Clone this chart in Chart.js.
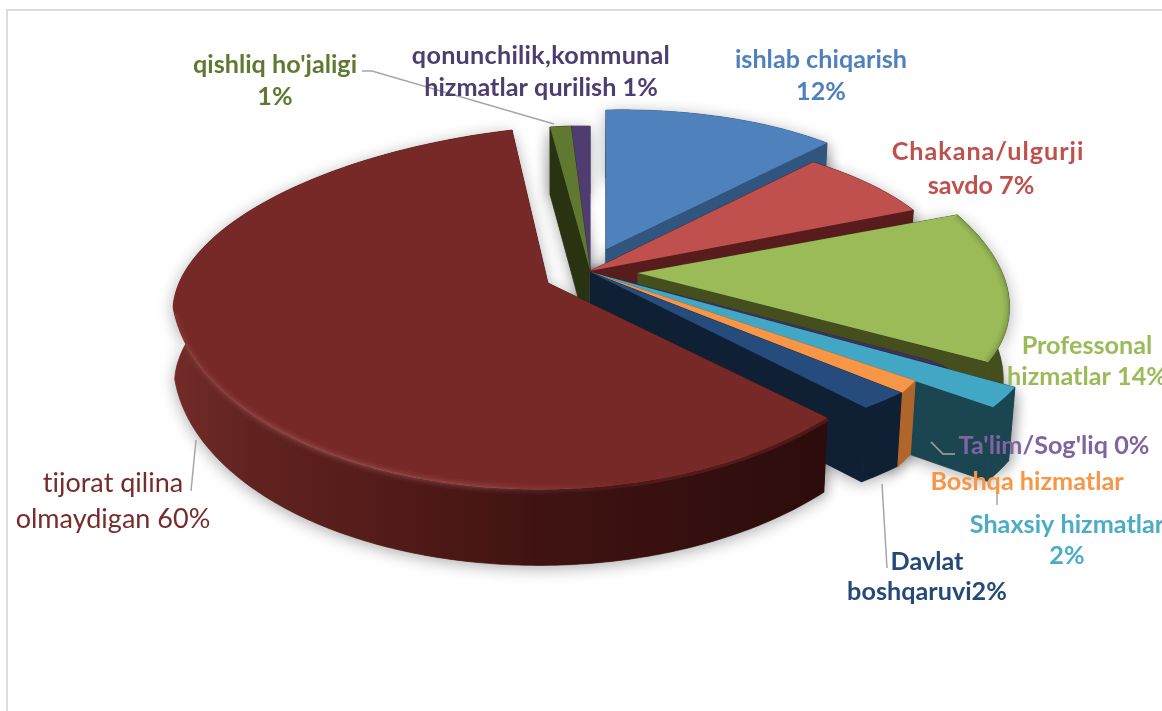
<!DOCTYPE html>
<html><head><meta charset="utf-8">
<style>html,body{margin:0;padding:0;background:#fff;overflow:hidden}canvas{display:block}</style>
<script src="https://cdn.jsdelivr.net/npm/chart.js@4"></script>
</head><body><canvas id="c" width="1162" height="711"></canvas>
<script>
const categories=["ishlab chiqarish","Chakana/ulgurji savdo","Professonal hizmatlar","Ta'lim/Sog'liq","Shaxsiy hizmatlar","Boshqa hizmatlar","Davlat boshqaruvi","tijorat qilina olmaydigan","qishliq ho'jaligi","qonunchilik,kommunal hizmatlar qurilish"];
const values=[12,7,14,0.3,2,1,2,60,1,1];
const topColors=["#4f81bd","#c0504d","#9bbb59","#43305f","#41a7c4","#f79646","#264b7d","#772928","#5f7a30","#4f3c70"];
const wallColors=["#30557f","#581c1d","#454f1e","#2f2445","#1c4552","#b0662a","#0f2034","#561c1a","#2a3311","#33264a"];

// Tilted-camera view of every wedge: origin, then the 2x2 map of the unit circle onto the page.
const views=[
 {o:[606,249],p:[[323.6,0,-6.5,139]]},
 {o:[590,271],p:[[361,32,-9.6,140]]},
 {o:[638,273],p:[[367,58,7,174]]},
 {o:[590,272],p:[[-79,865,-98.5,369]]},
 {o:[590,272],p:[[443,80,18,202]]},
 {o:[590,272],p:[[381,33,-32,225]]},
 {o:[590,272],p:[[410,-2,10,175]]},
 {o:[548,283],p:[[375,-11,-24,157.2],[375,35,-24,205]]},
 {o:[590,270],p:[[336,-2,-3,144.5]]},
 {o:[590,270],p:[[304,0,5,144]]}
];
const paintOrder=[9,8,0,1,2,3,4,5,6,7];
const LEAD="#a6a6a6";
const textLabels=[
 {c:"#4f81bd",x:821,l:[["ishlab chiqarish",60],["12%",92]]},
 {c:"#c0504d",x:988,s:[0.95,0],l:[["Chakana/ulgurji",152],["savdo 7%",186]],dx:[0,-7]},
 {c:"#9bbb59",x:1087,l:[["Professonal",346],["hizmatlar 14%",377]]},
 {c:"#8064a2",x:1054,l:[["Ta'lim/Sog'liq 0%",446]]},
 {c:"#f79646",x:1027,l:[["Boshqa hizmatlar",482]]},
 {c:"#4bacc6",x:1067,l:[["Shaxsiy hizmatlar",525],["2%",556]]},
 {c:"#254a7a",x:927,l:[["Davlat",562],["boshqaruvi2%",592]]},
 {c:"#772c2a",x:113,w:400,z:27,l:[["tijorat qilina",483],["olmaydigan 60%",519]]},
 {c:"#5f7a30",x:275,l:[["qishliq ho'jaligi",65],["1%",97]]},
 {c:"#4f3c70",x:541,s:[0.25,0],l:[["qonunchilik,kommunal",56],["hizmatlar qurilish 1%",88]]}
];
const leaders=[
 [[362,71],[372,71],[554,124]],
 [[191,491],[196,440]],
 [[887,568],[882,484]],
 [[997,505],[997,490]],
 [[931,442],[943,454],[955,454]]
];

function project(v,u0,v0){
 const m=v.p.length>1&&v0>0?v.p[1]:v.p[0];
 return [v.o[0]+m[0]*u0+m[1]*v0, v.o[1]+m[2]*u0+m[3]*v0];
}
function drop(p){
 const k=p[0]>590?0.015:0.004;
 return [p[0]-(p[0]-590)*k, p[1]+68+Math.max(0,p[1]-126)*0.022];
}
function rimPoints(arc,v,minV){
 const pts=[],n=Math.max(8,Math.ceil((arc.endAngle-arc.startAngle)*60));
 for(let i=0;i<=n;i++){
  const t=arc.startAngle+(arc.endAngle-arc.startAngle)*i/n;
  if(minV!==undefined&&Math.sin(t)<minV)continue;
  pts.push(project(v,Math.cos(t),Math.sin(t)));
 }
 return pts;
}
function tracePoly(ctx,pts){ctx.beginPath();pts.forEach((p,i)=>i?ctx.lineTo(p[0],p[1]):ctx.moveTo(p[0],p[1]));ctx.closePath();}
function wallPolys(arc,v){
 const rim=rimPoints(arc,v),o=v.o,bo=drop(o),a=rim[0],b=rim[rim.length-1];
 return [
  [o,a,drop(a),bo],
  [o,b,drop(b),bo],
  rim.concat(rim.slice().reverse().map(drop))
 ];
}
function drawTop(ctx,arc,v){
 const R=arc.outerRadius,x=arc.x,y=arc.y;
 v.p.forEach((m,k)=>{
  ctx.save();
  const a=m[0]/R,b=m[1]/R,c=m[2]/R,d=m[3]/R;
  ctx.transform(a,c,b,d,v.o[0]-(a*x+b*y),v.o[1]-(c*x+d*y));
  if(v.p.length>1){
   ctx.beginPath();
   if(k===0)ctx.rect(x-2*R,y-2*R,4*R,2*R+1.5);else ctx.rect(x-2*R,y-1,4*R,2*R+1);
   ctx.clip();
  }
  arc.draw(ctx);
  ctx.restore();
 });
}
const pie3d={
 id:'pie3d',
 beforeDatasetsDraw(chart){
  const ctx=chart.ctx,arcs=chart.getDatasetMeta(0).data;
  ctx.save();ctx.strokeStyle="#dcdcdc";ctx.lineWidth=2;
  ctx.beginPath();ctx.moveTo(7,711);ctx.lineTo(7,10);ctx.lineTo(1162,10);ctx.stroke();ctx.restore();
  ctx.save();
  ctx.shadowColor="rgba(0,0,0,0.33)";ctx.shadowBlur=16;ctx.shadowOffsetY=3;ctx.fillStyle="#777";
  paintOrder.forEach(i=>{
   wallPolys(arcs[i],views[i]).forEach(p=>{tracePoly(ctx,p);ctx.fill();});
  });
  ctx.restore();
  paintOrder.forEach(i=>{
   const arc=arcs[i],v=views[i];
   ctx.save();
   let fill=wallColors[i];
   if(i===7){
    const g=ctx.createLinearGradient(173,0,830,0);
    g.addColorStop(0,"#742b28");g.addColorStop(.04,"#6c2825");g.addColorStop(.14,"#5f221f");g.addColorStop(.35,"#511a18");g.addColorStop(.55,"#401312");g.addColorStop(1,"#2c0c0c");
    fill=g;
   }
   ctx.fillStyle=fill;ctx.strokeStyle=fill;ctx.lineWidth=.6;
   wallPolys(arc,v).forEach(p=>{tracePoly(ctx,p);ctx.fill();ctx.stroke();});
   ctx.restore();
   drawTop(ctx,arc,v);
   ctx.save();
   ctx.lineJoin="round";
   if(i===7){
    const front=rimPoints(arc,v,0.02);
    const hi=(al)=>{const g=ctx.createLinearGradient(173,0,830,0);
     g.addColorStop(0,"rgba(255,175,165,"+al*.5+")");g.addColorStop(.15,"rgba(255,175,165,"+al+")");g.addColorStop(.45,"rgba(255,175,165,"+al+")");g.addColorStop(.68,"rgba(255,175,165,0)");g.addColorStop(1,"rgba(255,175,165,0)");return g;};
    [[11,.035],[7,.05],[3.5,.08]].forEach(s=>{
     ctx.lineWidth=s[0];ctx.strokeStyle=hi(s[1]);
     ctx.beginPath();front.forEach((p,j)=>j?ctx.lineTo(p[0],p[1]):ctx.moveTo(p[0],p[1]));ctx.stroke();
    });
    const g2=ctx.createLinearGradient(173,0,830,0);
    g2.addColorStop(.55,"rgba(120,40,38,0)");g2.addColorStop(.75,"rgba(120,40,38,.45)");g2.addColorStop(1,"rgba(120,40,38,.45)");
    ctx.lineWidth=5;ctx.strokeStyle=g2;
    ctx.beginPath();front.forEach((p,j)=>j?ctx.lineTo(p[0],p[1]+1):ctx.moveTo(p[0],p[1]+1));ctx.stroke();
   }
   if(i===2){
    const rim=rimPoints(arc,v);
    tracePoly(ctx,[v.o].concat(rim));ctx.clip();
    [[12,.08],[7,.1],[3,.16]].forEach(s=>{
     ctx.lineWidth=s[0];ctx.strokeStyle="rgba(70,85,30,"+s[1]+")";
     ctx.beginPath();rim.forEach((p,j)=>j?ctx.lineTo(p[0],p[1]):ctx.moveTo(p[0],p[1]));ctx.stroke();
    });
   }
   ctx.restore();
  });
  return false;
 },
 afterDraw(chart){
  const ctx=chart.ctx;
  ctx.save();
  ctx.strokeStyle=LEAD;ctx.lineWidth=1.5;
  leaders.forEach(l=>{ctx.beginPath();l.forEach((p,i)=>i?ctx.lineTo(p[0],p[1]):ctx.moveTo(p[0],p[1]));ctx.stroke();});
  ctx.textAlign="center";ctx.textBaseline="middle";
  textLabels.forEach(t=>{
   ctx.fillStyle=t.c;ctx.font=(t.w||700)+" "+(t.z||25.2)+"px Lato, sans-serif";
   t.l.forEach((r,i)=>{
    ctx.letterSpacing=((t.s?t.s[i]:0)+0.01)+"px";
    ctx.fillText(r[0],t.x+(t.dx?t.dx[i]:0),r[1]);
   });
  });
  ctx.restore();
 }
};
new Chart(document.getElementById('c'),{
 type:'pie',
 data:{labels:categories,datasets:[{data:values,backgroundColor:topColors,borderWidth:0}]},
 options:{responsive:false,animation:false,layout:{padding:0},plugins:{legend:{display:false},tooltip:{enabled:false}}},
 plugins:[pie3d]
});
</script></body></html>
